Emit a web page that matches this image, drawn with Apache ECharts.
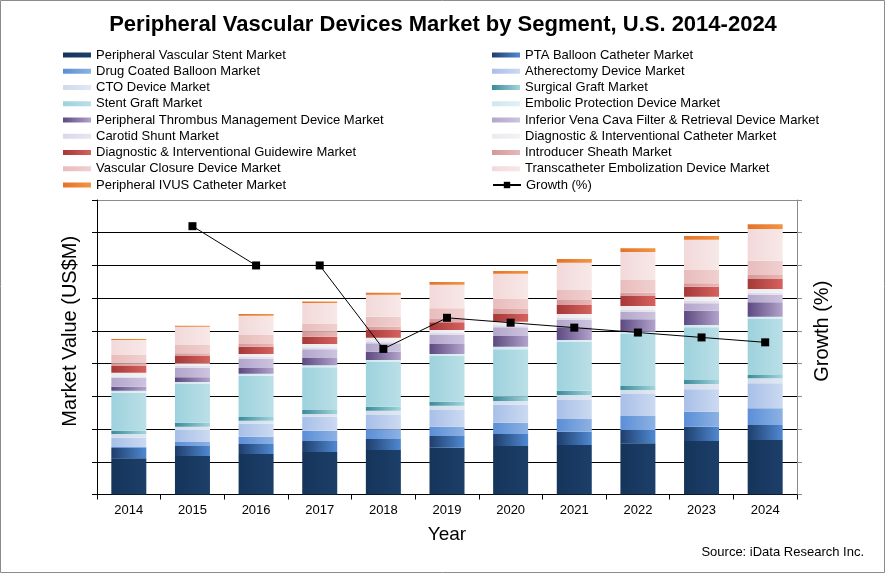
<!DOCTYPE html>
<html>
<head>
<meta charset="utf-8">
<script src="https://cdn.jsdelivr.net/npm/echarts@6/dist/echarts.min.js"></script>
<style>
html,body{margin:0;padding:0;background:#fff;}
#chart{width:886px;height:574px;}
</style>
</head>
<body>
<div id="chart"></div>
<script>
// ---- Data (US$M) ----
const years = ['2014','2015','2016','2017','2018','2019','2020','2021','2022','2023','2024'];
const seriesNames = [
  'Peripheral Vascular Stent Market',
  'PTA Balloon Catheter Market',
  'Drug Coated Balloon Market',
  'Atherectomy Device Market',
  'CTO Device Market',
  'Surgical Graft Market',
  'Stent Graft Market',
  'Embolic Protection Device Market',
  'Peripheral Thrombus Management Device Market',
  'Inferior Vena Cava Filter & Retrieval Device Market',
  'Carotid Shunt Market',
  'Diagnostic & Interventional Catheter Market',
  'Diagnostic & Interventional Guidewire Market',
  'Introducer Sheath Market',
  'Vascular Closure Device Market',
  'Transcatheter Embolization Device Market',
  'Peripheral IVUS Catheter Market'
];
const growthName = 'Growth (%)';

const pvStent      = [1109,1177,1238,1299,1360,1430,1482,1513,1565,1635,1666];
const ptaBalloon   = [312,306,306,336,336,358,367,406,406,437,458];
const drugCoated   = [31,122,223,315,296,284,345,388,428,458,510];
const atherectomy  = [284,367,403,428,437,510,550,581,672,685,764];
const cto          = [113,101,86,83,131,131,113,153,122,162,153];
const surgicalGraft= [101,122,113,122,122,122,131,131,122,122,101];
const stentGraft   = [1161,1183,1259,1305,1366,1397,1449,1497,1589,1611,1711];
const embolicProt  = [61,61,61,61,61,61,79,52,70,70,70];
const thrombus     = [122,144,177,223,254,306,327,388,379,437,440];
const ivcFilter    = [275,293,281,266,257,275,266,223,232,226,223];
const carotidShunt = [37,55,58,64,67,61,67,73,70,79,73];
const diagCatheter = [116,79,89,98,104,92,104,110,104,122,110];
const guidewire    = [220,223,223,223,235,235,235,275,306,306,306];
const introducer   = [67,83,83,153,101,101,153,153,101,104,122];
const closure      = [254,254,275,235,306,327,306,306,388,406,437];
const embolization = [458,559,590,642,672,721,773,834,856,926,969];
const ivus         = [31,31,52,46,61,83,83,113,113,113,144];
const growth       = [null,16.4,14.0,14.0,8.9,10.8,10.5,10.2,9.9,9.6,9.3];

const seriesValues = [pvStent, ptaBalloon, drugCoated, atherectomy, cto, surgicalGraft,
  stentGraft, embolicProt, thrombus, ivcFilter, carotidShunt, diagCatheter,
  guidewire, introducer, closure, embolization, ivus];

// ---- Styles ----
const gradStops = [
  ['#15345A','#1C3F69'],
  ['#1E3E6C','#5089D2'],
  ['#5B8ED6','#8DB2E4'],
  ['#A8BFE8','#CCDAF1'],
  ['#CFDBEB','#E0E8F3'],
  ['#3A8B98','#A3D5DD'],
  ['#9DD2DD','#BBDFE7'],
  ['#CDE8EE','#E0F1F4'],
  ['#5D4980','#B2A3CC'],
  ['#B2A5CB','#CDC4DF'],
  ['#DCD6E8','#E9E5F1'],
  ['#EAEAEF','#F3F3F5'],
  ['#A63838','#D5625E'],
  ['#D69898','#E7B7B7'],
  ['#E8BCBC','#F1D0D0'],
  ['#F2D9D9','#F8E8E8'],
  ['#E5722A','#F29443']
];
function grad(c){
  return new echarts.graphic.LinearGradient(0,0,1,0,[{offset:0,color:c[0]},{offset:1,color:c[1]}]);
}

const chart = echarts.init(document.getElementById('chart'), null, {renderer:'canvas'});
const FONT = 'Liberation Sans, Arial, sans-serif';

const series = seriesNames.map((n,i)=>({
  name:n, type:'bar', stack:'total', barWidth:35,
  data: seriesValues[i],
  itemStyle:{color:grad(gradStops[i])},
  emphasis:{disabled:true}
}));
series.push({
  name:growthName, type:'line', yAxisIndex:1, data:growth,
  symbol:'rect', symbolSize:8, connectNulls:false,
  itemStyle:{color:'#000'}, lineStyle:{color:'#000',width:1},
  z:10
});

const leftNames = seriesNames.filter((n,i)=>i%2===0);
const rightNames = seriesNames.filter((n,i)=>i%2===1);
const legendText = {fontFamily:FONT, fontSize:13, color:'#000'};

const gridColors = [];
for(let i=0;i<9;i++) gridColors.push('#000');
gridColors.push('#8c8c8c');

chart.setOption({
  animation:false,
  backgroundColor:'#fff',
  title:{
    text:'Peripheral Vascular Devices Market by Segment, U.S. 2014-2024',
    left:'center', top:9,
    textStyle:{fontFamily:FONT, fontSize:22, fontWeight:'bold', color:'#000'}
  },
  legend:[
    {orient:'vertical', left:63, top:48.5, padding:0, itemWidth:28, itemHeight:5, itemGap:3.25,
     textStyle:legendText, data:leftNames.map(n=>({name:n, icon:'rect'})), selectedMode:false},
    {orient:'vertical', left:492, top:48.5, padding:0, itemWidth:28, itemHeight:5, itemGap:3.25,
     textStyle:legendText, data:rightNames.map(n=>({name:n, icon:'rect'})), selectedMode:false},
    {orient:'vertical', left:492, top:178.5, padding:0, itemWidth:28, itemHeight:8,
     textStyle:legendText, data:[growthName], selectedMode:false}
  ],
  grid:{left:97, right:89, top:200, bottom:79.5, containLabel:false},
  xAxis:{
    type:'category', data:years,
    axisLine:{lineStyle:{color:'#000',width:1}},
    axisTick:{show:true, length:5, lineStyle:{color:'#000'}},
    axisLabel:{fontFamily:FONT, fontSize:13, color:'#000', margin:9},
    name:'Year', nameLocation:'middle', nameGap:31,
    nameTextStyle:{fontFamily:FONT, fontSize:19, color:'#000'}
  },
  yAxis:[
    {type:'value', min:0, max:9000, interval:1000,
     axisLine:{show:true, lineStyle:{color:'#000'}},
     axisTick:{show:true, length:5, lineStyle:{color:'#000'}},
     axisLabel:{show:false},
     splitLine:{show:true, lineStyle:{color:gridColors, width:1}},
     name:'Market Value (US$M)', nameLocation:'middle', nameGap:17,
     nameTextStyle:{fontFamily:FONT, fontSize:20, color:'#000', padding:[0,0,0,32]}
    },
    {type:'value', min:0, max:18, interval:2, position:'right',
     axisLine:{show:true, lineStyle:{color:'#8c8c8c'}},
     axisTick:{show:true, length:5, lineStyle:{color:'#8c8c8c'}},
     axisLabel:{show:false},
     splitLine:{show:false},
     name:'Growth (%)', nameLocation:'middle', nameGap:15,
     nameTextStyle:{fontFamily:FONT, fontSize:20, color:'#000', padding:[0,0,0,32]}
    }
  ],
  graphic:[
    {type:'rect', shape:{x:0.5,y:0.5,width:884,height:572}, style:{fill:null, stroke:'#8c8c8c', lineWidth:1}, silent:true},
    {type:'text', right:22, top:546, style:{text:'Source: iData Research Inc.', font:'13px Liberation Sans, Arial, sans-serif', fill:'#000'}}
  ],
  series:series
});
</script>
</body>
</html>
